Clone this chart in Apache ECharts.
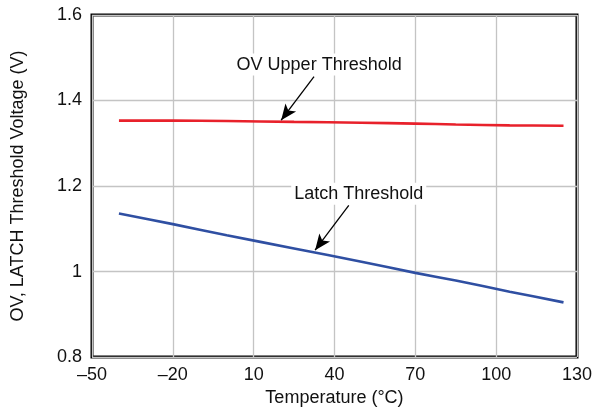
<!DOCTYPE html>
<html>
<head>
<meta charset="utf-8">
<script src="https://cdn.jsdelivr.net/npm/echarts@6/dist/echarts.min.js"></script>
<style>html,body{margin:0;padding:0;background:#fff}#c{width:595px;height:412px}</style>
</head>
<body>
<div id="c"></div>
<script>
var temperature = [-40, -20, 0, 25, 50, 70, 85, 105, 125];
var ovUpper = [1.353, 1.353, 1.352, 1.350, 1.348, 1.346, 1.344, 1.342, 1.341];
var latch = [1.136, 1.111, 1.085, 1.054, 1.023, 0.997, 0.979, 0.953, 0.928];
var xTicks = [-50, -20, 10, 40, 70, 100, 130];
var yTicks = [0.8, 1.0, 1.2, 1.4, 1.6];

var font = '"Liberation Sans", Arial, Helvetica, sans-serif';
function pairs(xs, ys){ return xs.map(function(x,i){ return [x, ys[i]]; }); }

var chart = echarts.init(document.getElementById('c'), null, {renderer:'canvas'});
chart.setOption({
  animation:false,
  backgroundColor:'#fff',
  grid:{left:92,right:15,top:15,bottom:52,show:true,borderColor:'#000',borderWidth:3,backgroundColor:'transparent'},
  xAxis:{
    type:'value', min:-50, max:130, interval:30,
    axisLine:{show:false}, axisTick:{show:false},
    splitLine:{show:true,lineStyle:{color:'#c4c4c4',width:1.3}},
    axisLabel:{fontFamily:font,fontSize:18,color:'#111',margin:9,
      formatter:function(v){ return String(v).replace('-','\u2013'); }},
    name:'Temperature (\u00b0C)', nameLocation:'middle', nameGap:30,
    nameTextStyle:{fontFamily:font,fontSize:18,color:'#111'}
  },
  yAxis:{
    type:'value', min:0.8, max:1.6, interval:0.2,
    axisLine:{show:false}, axisTick:{show:false},
    splitLine:{show:true,lineStyle:{color:'#c4c4c4',width:1.3}},
    axisLabel:{fontFamily:font,fontSize:18,color:'#111',margin:10,
      formatter:function(v){ return String(Math.round(v*10)/10); }},
    name:'OV, LATCH Threshold Voltage (V)', nameLocation:'middle', nameGap:65,
    nameTextStyle:{fontFamily:font,fontSize:18,color:'#111'}
  },
  series:[
    {type:'line', data:pairs(temperature, ovUpper), showSymbol:false, smooth:0.3,
     lineStyle:{color:'#e8212b',width:2.6}, z:3,
     markLine:{silent:true, symbol:['none','arrow'], symbolSize:[10,16], label:{show:false},
       lineStyle:{color:'#000',width:1.3,type:'solid'},
       data:[[{coord:[32.4,1.456]},{coord:[20.2,1.354]}]]},
     markPoint:{symbol:'circle',symbolSize:0,silent:true,
       label:{show:true,formatter:'OV Upper Threshold',fontFamily:font,fontSize:18,color:'#111',
         backgroundColor:'#fff',padding:[2,3]},
       data:[{coord:[34.3,1.484]}]}
    },
    {type:'line', data:pairs(temperature, latch), showSymbol:false, smooth:0.3,
     lineStyle:{color:'#2f4fa2',width:2.6}, z:3,
     markLine:{silent:true, symbol:['none','arrow'], symbolSize:[10,16], label:{show:false},
       lineStyle:{color:'#000',width:1.3,type:'solid'},
       data:[[{coord:[45.3,1.155]},{coord:[32.8,1.050]}]]},
     markPoint:{symbol:'circle',symbolSize:0,silent:true,
       label:{show:true,formatter:'Latch Threshold',fontFamily:font,fontSize:18,color:'#111',
         backgroundColor:'#fff',padding:[2,3]},
       data:[{coord:[49,1.182]}]}
    }
  ]
});
</script>
</body>
</html>
